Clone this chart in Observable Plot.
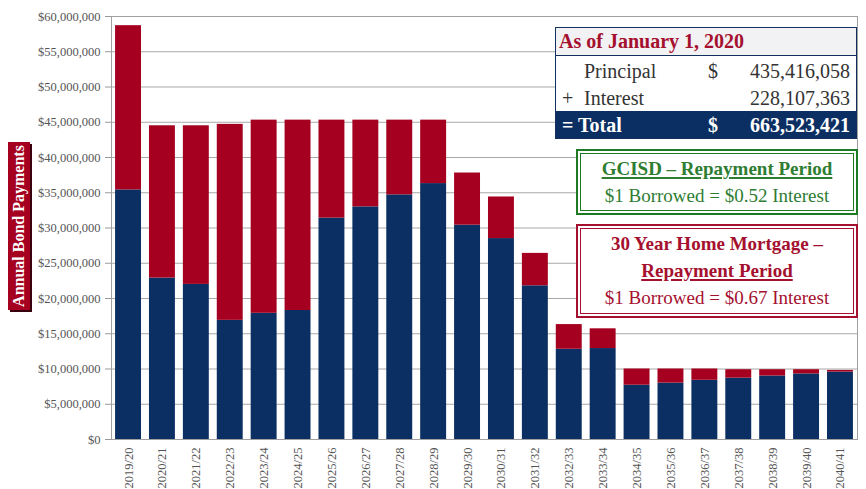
<!DOCTYPE html>
<html><head><meta charset="utf-8">
<script src="https://cdn.jsdelivr.net/npm/d3@7"></script>
<script src="https://cdn.jsdelivr.net/npm/@observablehq/plot@0.6"></script>
<style>
body{margin:0;background:#fff;}
#wrap{position:relative;width:866px;height:489px;font-family:"Liberation Serif",serif;overflow:hidden;}
#ytitle{position:absolute;left:8px;top:142px;width:22px;height:168px;background:#a5001f;box-shadow:2px 2px 0 #3a0010;}
#ytitle span{position:absolute;left:50%;top:50%;transform:translate(-50%,-50%) rotate(-90deg);white-space:nowrap;color:#fff;font-weight:bold;font-size:16px;}
#tbl{position:absolute;left:555px;top:27px;width:300px;height:110px;border:1.5px solid #12305e;background:#fff;}
#tbl .row{position:absolute;left:0;width:100%;font-size:20px;line-height:26px;}
#tbl .hd{top:0;height:27px;background:#f2f2f4;color:#a5102f;font-weight:bold;border-bottom:1.5px solid #12305e;}
#tbl .tot{bottom:0;height:27px;background:#0b2f62;color:#fff;font-weight:bold;}
.box{position:absolute;left:577px;width:272px;text-align:center;font-size:19px;line-height:27px;background:#fff;}
#g{top:150px;height:56px;border:4px double #1e7b23;color:#2e7d32;outline:1px solid #1e7b23;}
#r{top:225px;height:84px;border:4px double #a5102f;color:#a5102f;outline:1px solid #a5102f;}
.box b{font-weight:bold;}
.u{text-decoration:underline;text-decoration-thickness:1.5px;text-underline-offset:2px;}
</style></head><body><div id="wrap"></div>
<script>
const years = ["2019/20","2020/21","2021/22","2022/23","2023/24","2024/25","2025/26","2026/27","2027/28","2028/29","2029/30","2030/31","2031/32","2032/33","2033/34","2034/35","2035/36","2036/37","2037/38","2038/39","2039/40","2040/41"];
// millions of dollars
const principal = [35.4,22.9,22.0,16.9,17.9,18.3,31.4,33.0,34.7,36.3,30.4,28.5,21.8,12.8,12.9,7.7,8.0,8.4,8.7,9.0,9.3,9.56];
const interest  = [23.3,21.6,22.5,27.8,27.4,27.0,13.9,12.3,10.6,9.0,7.4,5.9,4.6,3.5,2.8,2.3,2.0,1.6,1.2,0.9,0.6,0.24];
const yTicks = [0,5,10,15,20,25,30,35,40,45,50,55,60];
const seriesNames = ["Principal","Interest"];
const colors = ["#0b2f62","#a5001f"];

const data = [];
years.forEach((y,i)=>{
  data.push({year:y, type:"Principal", value:principal[i]*1e6});
  data.push({year:y, type:"Interest", value:interest[i]*1e6});
});

const fmt = v => "$" + d3.format(",")(v);

const chart = Plot.plot({
  width: 866, height: 489,
  marginLeft: 111, marginRight: 9, marginTop: 16, marginBottom: 50,
  style: {fontFamily: "Liberation Serif, serif", background: "#fff"},
  x: {domain: years, paddingInner: 0.235, paddingOuter: 0.12, round: false, label: null},
  y: {domain: [0, 60e6], label: null},
  color: {domain: seriesNames, range: colors},
  marks: [
    Plot.gridY(yTicks.map(d=>d*1e6), {stroke: "#a8a8a8", strokeOpacity: 1}),
    Plot.barY(data, {x: "year", y: "value", fill: "type", order: seriesNames}),
    Plot.frame({stroke: "#a0a0a0"}),
    Plot.axisY(yTicks.map(d=>d*1e6), {tickFormat: fmt, tickSize: 6, tickPadding: 5, stroke: "#999", fill: "#555", fontSize: 12.5, label: null}),
    Plot.axisX({tickRotate: -90, tickSize: 0, tickPadding: 8, fill: "#555", fontSize: 12.5, label: null})
  ]
});
const wrap = document.getElementById("wrap");
wrap.appendChild(chart);

wrap.insertAdjacentHTML("beforeend", `
<div id="ytitle"><span>Annual Bond Payments</span></div>
<div id="tbl">
  <div class="row hd"><span style="position:absolute;left:3px;top:0px;">As of January 1, 2020</span></div>
  <div class="row" style="top:29px;height:27px;color:#333;">
    <span style="position:absolute;left:28px;top:1px;">Principal</span>
    <span style="position:absolute;left:152px;top:1px;">$</span>
    <span style="position:absolute;right:6px;top:1px;">435,416,058</span>
  </div>
  <div class="row" style="top:56px;height:27px;color:#333;">
    <span style="position:absolute;left:6px;top:1px;">+</span>
    <span style="position:absolute;left:28px;top:1px;">Interest</span>
    <span style="position:absolute;right:6px;top:1px;">228,107,363</span>
  </div>
  <div class="row tot">
    <span style="position:absolute;left:6px;top:1px;">= Total</span>
    <span style="position:absolute;left:152px;top:1px;">$</span>
    <span style="position:absolute;right:6px;top:1px;">663,523,421</span>
  </div>
</div>
<div class="box" id="g"><div style="margin-top:1px;"><b class="u">GCISD – Repayment Period</b></div><div>$1 Borrowed = $0.52 Interest</div></div>
<div class="box" id="r"><div style="margin-top:1px;"><b>30 Year Home Mortgage –</b></div><div><b class="u">Repayment Period</b></div><div>$1 Borrowed = $0.67 Interest</div></div>
`);
</script>
</body></html>
